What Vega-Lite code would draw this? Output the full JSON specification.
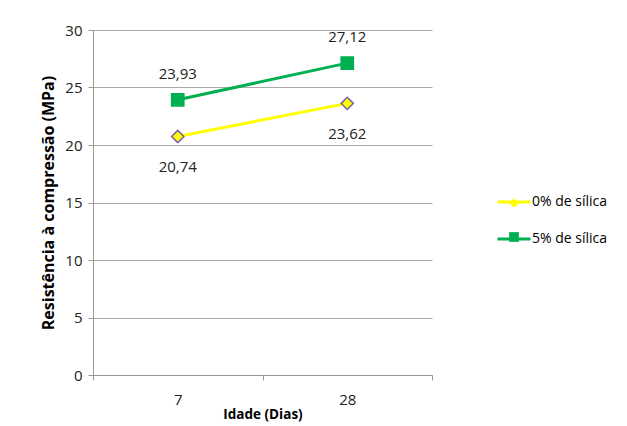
{
  "$schema": "https://vega.github.io/schema/vega-lite/v6.json",
  "width": 339,
  "height": 345,
  "autosize": {"type": "none"},
  "padding": {"left": 93, "top": 30, "right": 195, "bottom": 51},
  "background": "white",
  "config": {
    "locale": {"number": {"decimal": ",", "thousands": ".", "grouping": [3], "currency": ["R$", ""]}},
    "view": {"stroke": null},
    "font": "Open Sans"
  },
  "data": {
    "values": [
      {"idade": "7", "serie": "0% de sílica", "valor": 20.74},
      {"idade": "28", "serie": "0% de sílica", "valor": 23.62},
      {"idade": "7", "serie": "5% de sílica", "valor": 23.93},
      {"idade": "28", "serie": "5% de sílica", "valor": 27.12}
    ]
  },
  "encoding": {
    "x": {
      "field": "idade", "type": "ordinal", "sort": ["7", "28"],
      "scale": {"paddingInner": 0, "paddingOuter": 0},
      "axis": {
        "title": "Idade (Dias)", "titleFont": "Open Sans", "titleFontWeight": "bold", "titleFontSize": 13.5,
        "titleColor": "#000000", "titlePadding": 0,
        "labelAngle": 0, "labelFontSize": 15, "labelColor": "#222222", "labelPadding": 12,
        "tickBand": "extent", "tickSize": 5, "tickColor": "#999999", "domainColor": "#999999",
        "grid": false
      }
    },
    "y": {
      "field": "valor", "type": "quantitative",
      "scale": {"domain": [0, 30], "nice": false, "zero": true},
      "axis": {
        "title": "Resistência à compressão (MPa)", "titleFontWeight": "bold", "titleFontSize": 16,
        "titleColor": "#000000", "titlePadding": 8,
        "values": [0, 5, 10, 15, 20, 25, 30], "format": "d",
        "labelFontSize": 15, "labelColor": "#222222", "labelPadding": 6,
        "tickSize": 5, "tickColor": "#999999", "domainColor": "#999999",
        "grid": true, "gridColor": "#AAAAAA"
      }
    }
  },
  "layer": [
    {
      "mark": {"type": "line", "strokeWidth": 3},
      "encoding": {
        "color": {
          "field": "serie", "type": "nominal",
          "scale": {"domain": ["0% de sílica", "5% de sílica"], "range": ["#FFFF00", "#00B050"]},
          "legend": {
            "title": null, "orient": "none", "legendX": 403, "legendY": 154,
            "symbolType": "stroke", "symbolSize": 1089, "symbolStrokeWidth": 3,
            "labelFontSize": 14, "labelColor": "#000000", "labelOffset": 0,
            "rowPadding": 12, "padding": 0
          }
        }
      }
    },
    {
      "mark": {"type": "point", "filled": true, "opacity": 1, "size": 150, "strokeWidth": 1.5},
      "encoding": {
        "fill": {
          "field": "serie", "type": "nominal",
          "scale": {"range": ["#FFFF00", "#00B050"]},
          "legend": {
            "title": null, "orient": "none", "legendX": 414, "legendY": 166,
            "symbolSize": 95, "symbolStrokeWidth": 0,
            "labelFontSize": 14, "labelOpacity": 0, "labelOffset": 0,
            "rowPadding": 20, "padding": 0
          }
        },
        "shape": {
          "field": "serie", "type": "nominal",
          "scale": {"range": ["diamond", "square"]},
          "legend": {
            "title": null, "orient": "none", "legendX": 414, "legendY": 166,
            "symbolSize": 95,
            "labelFontSize": 14, "labelOpacity": 0, "labelOffset": 0,
            "rowPadding": 20, "padding": 0
          }
        },
        "stroke": {
          "field": "serie", "type": "nominal",
          "scale": {"domain": ["0% de sílica", "5% de sílica"], "range": ["#7F5FA8", "#00B050"]},
          "legend": null
        }
      }
    },
    {
      "transform": [{"filter": "datum.serie === '5% de sílica'"}],
      "mark": {"type": "text", "dy": -26, "fontSize": 15, "color": "#222222"},
      "encoding": {"text": {"field": "valor", "type": "quantitative", "format": ".2f"}}
    },
    {
      "transform": [{"filter": "datum.serie === '0% de sílica'"}],
      "mark": {"type": "text", "dy": 31, "fontSize": 15, "color": "#222222"},
      "encoding": {"text": {"field": "valor", "type": "quantitative", "format": ".2f"}}
    }
  ]
}
